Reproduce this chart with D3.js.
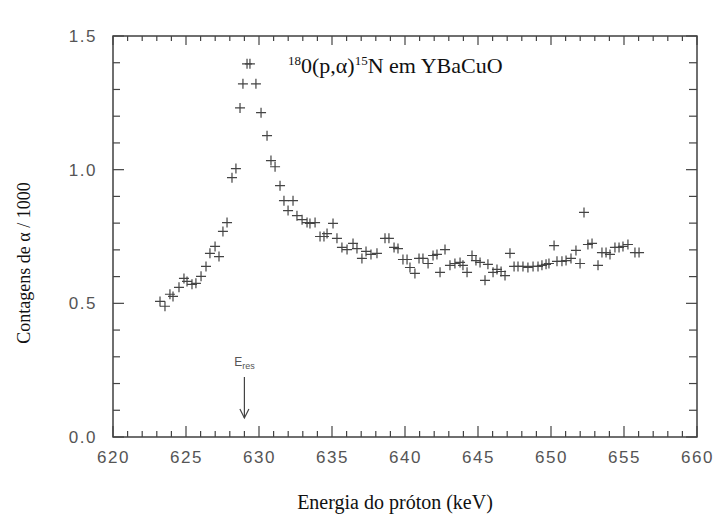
<!DOCTYPE html>
<html>
<head>
<meta charset="utf-8">
<script src="https://cdn.jsdelivr.net/npm/d3@7"></script>
<style>
  body { margin: 0; background: #fff; }
  .tick text { font-family: "Liberation Sans", Arial, sans-serif; fill: #555; }
</style>
</head>
<body>
<div id="chart"></div>
<script>
// Proton energy (keV) of each point
var energy = [623.22, 623.56, 623.90, 624.11, 624.52, 624.86, 625.07, 625.41, 625.68, 626.03,
  626.37, 626.64, 626.99, 627.26, 627.53, 627.81, 628.15, 628.42, 628.70, 628.90,
  629.18, 629.38, 629.79, 630.14, 630.55, 630.82, 631.10, 631.44, 631.71, 631.99,
  632.33, 632.60, 632.95, 633.29, 633.49, 633.84, 634.18, 634.45, 634.66, 635.07,
  635.34, 635.68, 636.03, 636.44, 636.71, 637.05, 637.33, 637.67, 638.08, 638.63,
  638.90, 639.25, 639.52, 639.86, 640.14, 640.34, 640.68, 640.96, 641.23, 641.58,
  641.92, 642.19, 642.40, 642.74, 643.08, 643.42, 643.77, 643.97, 644.25, 644.59,
  644.86, 645.14, 645.48, 645.68, 646.03, 646.30, 646.58, 646.85, 647.19, 647.47,
  647.74, 648.08, 648.42, 648.77, 649.11, 649.38, 649.66, 649.86, 650.21, 650.41,
  650.75, 651.03, 651.37, 651.71, 651.99, 652.26, 652.53, 652.81, 653.22, 653.49,
  653.77, 654.04, 654.38, 654.66, 654.93, 655.27, 655.75, 656.03];

// Alpha counts / 1000
var counts = [0.507, 0.489, 0.534, 0.526, 0.560, 0.593, 0.582, 0.571, 0.575, 0.601,
  0.638, 0.687, 0.713, 0.675, 0.769, 0.802, 0.970, 1.004, 1.231, 1.321,
  1.396, 1.396, 1.321, 1.213, 1.127, 1.034, 1.011, 0.940, 0.884, 0.847,
  0.884, 0.828, 0.813, 0.802, 0.799, 0.802, 0.750, 0.750, 0.761, 0.799,
  0.743, 0.709, 0.701, 0.724, 0.705, 0.668, 0.694, 0.683, 0.687, 0.743,
  0.743, 0.709, 0.705, 0.664, 0.664, 0.634, 0.612, 0.668, 0.668, 0.649,
  0.679, 0.683, 0.616, 0.701, 0.642, 0.649, 0.653, 0.642, 0.616, 0.679,
  0.660, 0.653, 0.586, 0.646, 0.616, 0.627, 0.619, 0.604, 0.687, 0.638,
  0.638, 0.638, 0.634, 0.638, 0.638, 0.642, 0.646, 0.649, 0.716, 0.657,
  0.657, 0.660, 0.668, 0.698, 0.649, 0.840, 0.720, 0.724, 0.642, 0.690,
  0.690, 0.683, 0.709, 0.709, 0.713, 0.720, 0.690, 0.690];

var xTicks = [620, 625, 630, 635, 640, 645, 650, 655, 660];
var yTicks = [0.0, 0.5, 1.0, 1.5];
var resEnergy = 629;

var svgWidth = 723;
var svgHeight = 517;
var margin = { top: 36, right: 26, bottom: 80, left: 113 };
var chartWidth = svgWidth - margin.left - margin.right;
var chartHeight = svgHeight - margin.top - margin.bottom;

var svg = d3.select("#chart").append("svg")
    .attr("width", svgWidth)
    .attr("height", svgHeight);

var chartGrp = svg.append("g")
    .attr("transform", `translate(${margin.left}, ${margin.top})`);

var xScale = d3.scaleLinear().domain([620, 660]).range([0, chartWidth]);
var yScale = d3.scaleLinear().domain([0, 1.5]).range([chartHeight, 0]);

var minorX = d3.range(620, 661, 1);
var minorY = d3.range(0, 16, 1).map(d => d / 10);

// axis labels via d3 axes (tick lines drawn separately below)
chartGrp.append("g").attr("transform", `translate(0, ${chartHeight})`)
    .call(d3.axisBottom(xScale).tickValues(xTicks).tickSize(0).tickPadding(14))
    .selectAll("text").style("font-size", "17px").style("letter-spacing", "1.5px");

chartGrp.append("g")
    .call(d3.axisLeft(yScale).tickValues(yTicks).tickSize(0).tickPadding(16).tickFormat(d3.format(".1f")))
    .selectAll("text").style("font-size", "17px").style("letter-spacing", "1.5px");

chartGrp.selectAll(".domain").remove();

// frame
chartGrp.append("rect")
    .attr("x", 0).attr("y", 0)
    .attr("width", chartWidth).attr("height", chartHeight)
    .attr("fill", "none").attr("stroke", "#333").attr("stroke-width", 1.4);

// inward tick marks (major every 5 keV / 0.5, minor every 1 keV / 0.1)
var tickGrp = chartGrp.append("g").attr("stroke", "#444").attr("stroke-width", 1.2);
minorX.forEach(function(v) {
    var major = v % 5 === 0;
    var px = xScale(v);
    tickGrp.append("path").attr("d", `M${px},${chartHeight}V${chartHeight - (major ? 11 : 6)}`);
    tickGrp.append("path").attr("d", `M${px},0V${major ? 9 : 5}`);
});
minorY.forEach(function(v, i) {
    var major = i % 5 === 0;
    var py = yScale(v);
    tickGrp.append("path").attr("d", `M0,${py}H${major ? 11 : 7}`);
    tickGrp.append("path").attr("d", `M${chartWidth},${py}H${chartWidth - (major ? 11 : 8)}`);
});

// data markers (+)
var points = energy.map((e, i) => ({ e: e, c: counts[i] }));
chartGrp.append("g").selectAll("path").data(points).enter().append("path")
    .attr("transform", d => `translate(${xScale(d.e)}, ${yScale(d.c)})`)
    .attr("d", "M-5,0H5M0,-5V5")
    .attr("stroke", "#444")
    .attr("stroke-width", 1.2)
    .attr("fill", "none");

// E_res annotation with arrow
var arrowX = xScale(resEnergy);
var eres = chartGrp.append("text")
    .attr("x", arrowX)
    .attr("y", 330)
    .attr("text-anchor", "middle")
    .style("font-family", "'Liberation Sans', Arial, sans-serif")
    .style("font-size", "12px")
    .style("fill", "#555");
eres.append("tspan").text("E");
eres.append("tspan").attr("dy", 3).style("font-size", "9px").text("res");

chartGrp.append("line")
    .attr("x1", arrowX).attr("x2", arrowX)
    .attr("y1", 341).attr("y2", 382)
    .attr("stroke", "#444").attr("stroke-width", 1.2);
chartGrp.append("path")
    .attr("d", `M${arrowX - 4.5},${373}L${arrowX},${382}L${arrowX + 4.5},${373}`)
    .attr("stroke", "#444").attr("stroke-width", 1.2).attr("fill", "none");

// title in the plot
var title = svg.append("text")
    .attr("x", 288)
    .attr("y", 73)
    .style("font-family", "'Liberation Serif', 'Times New Roman', serif")
    .style("font-size", "22px")
    .style("fill", "#111");
title.append("tspan").attr("dy", -8).style("font-size", "13px").text("18");
title.append("tspan").attr("dy", 8).text("0(p,α)");
title.append("tspan").attr("dy", -8).style("font-size", "13px").text("15");
title.append("tspan").attr("dy", 8).text("N em YBaCuO");

// axis titles
svg.append("text")
    .attr("x", 395)
    .attr("y", 509)
    .attr("text-anchor", "middle")
    .style("font-family", "'Liberation Serif', 'Times New Roman', serif")
    .style("font-size", "20px")
    .style("fill", "#111")
    .text("Energia do próton (keV)");

svg.append("text")
    .attr("transform", "translate(30, 263) rotate(-90)")
    .attr("text-anchor", "middle")
    .style("font-family", "'Liberation Serif', 'Times New Roman', serif")
    .style("font-size", "18px")
    .style("fill", "#111")
    .text("Contagens de α / 1000");
</script>
</body>
</html>
